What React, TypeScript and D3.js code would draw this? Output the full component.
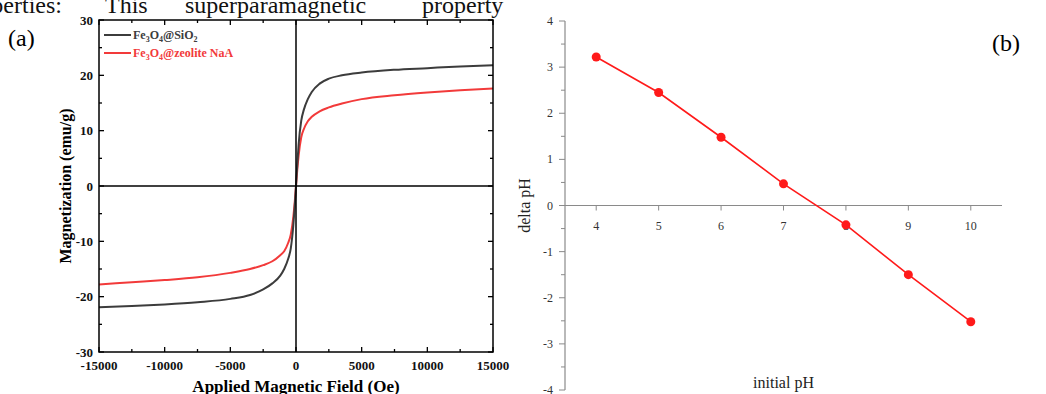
import React, { useEffect, useRef } from 'react';
import * as d3 from 'd3';

// panel (a): magnetization curves
const fieldOe = [-15000, -12500, -10000, -7500, -5000, -3500, -2500, -1800, -1200, -900, -600, -400, -200, -100, 0,
  100, 200, 400, 600, 900, 1200, 1800, 2500, 3500, 5000, 7500, 10000, 12500, 15000];
const magSiO2 = [-21.9, -21.7, -21.4, -21.0, -20.4, -19.7, -18.7, -17.6, -16.2, -15.0, -13.2, -11.3, -7.0, -3.8, 0,
  4.0, 7.5, 11.8, 13.8, 15.7, 17.0, 18.5, 19.4, 20.0, 20.5, 21.0, 21.3, 21.6, 21.8];
const magZeolite = [-17.8, -17.4, -17.0, -16.5, -15.7, -15.0, -14.3, -13.6, -12.5, -11.8, -10.3, -8.8, -5.5, -3.0, 0,
  3.0, 5.5, 8.8, 10.3, 11.7, 12.5, 13.5, 14.2, 14.9, 15.7, 16.4, 16.9, 17.3, 17.6];
const fieldTicks = [-15000, -10000, -5000, 0, 5000, 10000, 15000];
const magTicks = [-30, -20, -10, 0, 10, 20, 30];

// panel (b): delta pH vs initial pH
const initialPH = [4, 5, 6, 7, 8, 9, 10];
const deltaPH = [3.22, 2.45, 1.48, 0.47, -0.42, -1.5, -2.52];
const phTicks = [4, 5, 6, 7, 8, 9, 10];
const deltaTicks = [-4, -3, -2, -1, 0, 1, 2, 3, 4];

const App: React.FC = () => {
  const svgRef = useRef<SVGSVGElement>(null);

  useEffect(() => {
    if (!svgRef.current) return;
    const svg = d3.select(svgRef.current);
    svg.selectAll('*').remove();
    const serif = '"Liberation Serif", "Times New Roman", serif';

    // Clipped body text at top
    const body = svg.append('g').attr('font-family', serif).attr('font-size', 24).attr('fill', '#111');
    body.append('text').attr('x', 62).attr('y', 13).attr('text-anchor', 'end').text('properties:');
    body.append('text').attr('x', 105).attr('y', 13).text('This');
    body.append('text').attr('x', 185).attr('y', 13).text('superparamagnetic');
    body.append('text').attr('x', 422).attr('y', 13).text('property');

    svg.append('text').attr('x', 8).attr('y', 46).attr('font-family', serif).attr('font-size', 24).text('(a)');
    svg.append('text').attr('x', 992).attr('y', 51).attr('font-family', serif).attr('font-size', 24).text('(b)');

    // ---------- Panel (a) ----------
    const ax = d3.scaleLinear().domain([-15000, 15000]).range([99, 493]);
    const ay = d3.scaleLinear().domain([-30, 30]).range([352, 20]);
    const ga = svg.append('g');

    const line = d3.line<number>()
      .x((_, i) => ax(fieldOe[i]))
      .y(d => ay(d))
      .curve(d3.curveMonotoneX);

    ga.append('path').datum(magZeolite).attr('fill', 'none').attr('stroke', '#f23a3a').attr('stroke-width', 2).attr('d', line);
    ga.append('path').datum(magSiO2).attr('fill', 'none').attr('stroke', '#3c3c3c').attr('stroke-width', 2).attr('d', line);

    // zero lines
    ga.append('line').attr('x1', ax(0)).attr('x2', ax(0)).attr('y1', ay(30)).attr('y2', ay(-30)).attr('stroke', '#000').attr('stroke-width', 1.5);
    ga.append('line').attr('x1', ax(-15000)).attr('x2', ax(15000)).attr('y1', ay(0)).attr('y2', ay(0)).attr('stroke', '#000').attr('stroke-width', 1.5);

    // frame
    ga.append('rect').attr('x', 99).attr('y', 20).attr('width', 394).attr('height', 332)
      .attr('fill', 'none').attr('stroke', '#000').attr('stroke-width', 1.5);

    // inward ticks on all sides
    const tickA = ga.append('g').attr('stroke', '#000').attr('stroke-width', 1.3);
    d3.range(-15000, 15001, 2500).forEach(v => {
      const len = v % 5000 === 0 ? 5 : 3;
      tickA.append('line').attr('x1', ax(v)).attr('x2', ax(v)).attr('y1', 352).attr('y2', 352 - len);
      tickA.append('line').attr('x1', ax(v)).attr('x2', ax(v)).attr('y1', 20).attr('y2', 20 + len);
    });
    d3.range(-30, 31, 5).forEach(v => {
      const len = v % 10 === 0 ? 5 : 3;
      tickA.append('line').attr('x1', 99).attr('x2', 99 + len).attr('y1', ay(v)).attr('y2', ay(v));
      tickA.append('line').attr('x1', 493).attr('x2', 493 - len).attr('y1', ay(v)).attr('y2', ay(v));
    });

    const labA = ga.append('g').attr('font-family', serif).attr('font-weight', 'bold').attr('font-size', 13).attr('fill', '#111');
    fieldTicks.forEach(v => {
      labA.append('text').attr('x', ax(v)).attr('y', 370).attr('text-anchor', 'middle').text(v);
    });
    magTicks.forEach(v => {
      labA.append('text').attr('x', 93).attr('y', ay(v) + 4.5).attr('text-anchor', 'end').text(v);
    });

    ga.append('text').attr('x', ax(0)).attr('y', 392).attr('text-anchor', 'middle')
      .attr('font-family', serif).attr('font-weight', 'bold').attr('font-size', 17).text('Applied Magnetic Field (Oe)');
    ga.append('text').attr('transform', `translate(71,${(20 + 352) / 2}) rotate(-90)`).attr('text-anchor', 'middle')
      .attr('font-family', serif).attr('font-weight', 'bold').attr('font-size', 16).text('Magnetization (emu/g)');

    // legend
    const leg = ga.append('g').attr('font-family', serif).attr('font-weight', 'bold').attr('font-size', 12);
    const legendItems = [
      { color: '#3c3c3c', y: 35, parts: ['Fe', '3', 'O', '4', '@SiO', '2'] },
      { color: '#f23a3a', y: 53, parts: ['Fe', '3', 'O', '4', '@zeolite NaA'] }
    ];
    legendItems.forEach(item => {
      leg.append('line').attr('x1', 104).attr('x2', 131).attr('y1', item.y).attr('y2', item.y)
        .attr('stroke', item.color).attr('stroke-width', 2);
      const t = leg.append('text').attr('x', 133).attr('y', item.y + 4).attr('fill', item.color);
      item.parts.forEach((p, i) => {
        const sub = /^\d$/.test(p);
        t.append('tspan').attr('font-size', sub ? 8 : 12).attr('dy', sub ? 3 : (i > 0 ? -3 : 0)).text(p);
      });
    });

    // ---------- Panel (b) ----------
    const bx = d3.scaleLinear().domain([3.5, 10.5]).range([565, 1002]);
    const by = d3.scaleLinear().domain([-4, 4]).range([390, 21]);
    const gb = svg.append('g');
    const grey = '#8a8a8a';

    gb.append('line').attr('x1', 565).attr('x2', 565).attr('y1', by(4)).attr('y2', by(-4)).attr('stroke', grey).attr('stroke-width', 1.2);
    gb.append('line').attr('x1', 565).attr('x2', 1002).attr('y1', by(0)).attr('y2', by(0)).attr('stroke', grey).attr('stroke-width', 1.2);

    d3.range(-4, 4.01, 0.5).forEach(v => {
      const len = Number.isInteger(v) ? 6 : 4;
      gb.append('line').attr('x1', 565 - len).attr('x2', 565).attr('y1', by(v)).attr('y2', by(v)).attr('stroke', grey).attr('stroke-width', 1);
    });
    phTicks.forEach(v => {
      gb.append('line').attr('x1', bx(v)).attr('x2', bx(v)).attr('y1', by(0)).attr('y2', by(0) + 5).attr('stroke', grey).attr('stroke-width', 1);
    });

    const labB = gb.append('g').attr('font-family', serif).attr('font-size', 12).attr('fill', '#333');
    deltaTicks.forEach(v => {
      labB.append('text').attr('x', 553).attr('y', by(v) + 4).attr('text-anchor', 'end').text(v);
    });
    phTicks.forEach(v => {
      labB.append('text').attr('x', bx(v)).attr('y', by(0) + 24).attr('text-anchor', 'middle').text(v);
    });

    gb.append('text').attr('x', bx(7)).attr('y', 388).attr('text-anchor', 'middle')
      .attr('font-family', serif).attr('font-size', 16).attr('fill', '#222').text('initial pH');
    gb.append('text').attr('transform', `translate(530,${by(0)}) rotate(-90)`).attr('text-anchor', 'middle')
      .attr('font-family', serif).attr('font-size', 16).attr('fill', '#222').text('delta pH');

    const phLine = d3.line<number>().x((_, i) => bx(initialPH[i])).y(d => by(d));
    gb.append('path').datum(deltaPH).attr('fill', 'none').attr('stroke', '#ff1a1a').attr('stroke-width', 1.6).attr('d', phLine);
    gb.selectAll('.dot').data(deltaPH).enter().append('circle')
      .attr('cx', (_, i) => bx(initialPH[i])).attr('cy', d => by(d)).attr('r', 4.5).attr('fill', '#ff1a1a');
  }, []);

  return <svg ref={svgRef} width={1046} height={394} style={{ position: 'absolute', left: 0, top: 0 }}></svg>;
};

export default App;
